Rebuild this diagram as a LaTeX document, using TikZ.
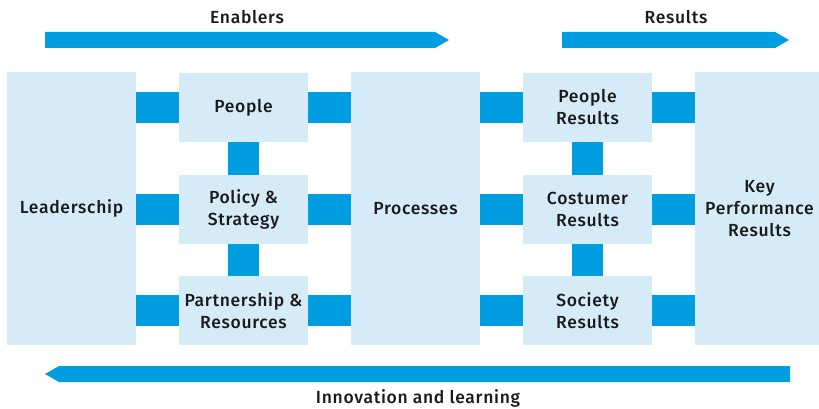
\documentclass[tikz,border=0pt]{standalone}
\usepackage{fontspec}
\setmainfont{Fira Sans}[UprightFont=* Medium, LetterSpace=4]
\definecolor{efqmblue}{RGB}{0,158,224}
\definecolor{efqmlight}{RGB}{213,235,248}
\definecolor{efqmtext}{RGB}{26,26,26}
\tikzset{
  box/.style={fill=efqmlight, minimum width=129pt, minimum height=69pt,
    inner sep=0pt, align=center, text=efqmtext},
  bigbox/.style={box, minimum height=273pt},
  link/.style={draw=efqmblue, line width=31pt},
  caption/.style={text=efqmtext}
}
\begin{document}
\begin{tikzpicture}[x=1pt,y=-1pt,font=\fontsize{17.5}{22}\selectfont]
	\useasboundingbox (0,0) rectangle (819,409);
	\clip (0,0) rectangle (819,409);
	% flow arrows
	\fill[efqmblue] (45,32)--(435,32)--(449,40)--(435,48)--(45,48)--cycle;
	\fill[efqmblue] (562,32)--(775,32)--(789,40)--(775,48)--(562,48)--cycle;
	\fill[efqmblue] (790,366)--(59,366)--(45,374)--(59,382)--(790,382)--cycle;
	\node[caption] (enablers) at (247,17) {Enablers};
	\node[caption] (results) at (676,17) {Results};
	\node[caption] (innovation) at (418,398) {Innovation and learning};
	% boxes
	\node[bigbox] (lead) at (71.5,208.5) {Leaderschip};
	\node[box] (people) at (243.5,107.5) {People};
	\node[box] (policy) at (243.5,209.5) {Policy \&\\Strategy};
	\node[box] (partner) at (243.5,310.5) {Partnership \&\\Resources};
	\node[bigbox] (proc) at (415.5,208.5) {Processes};
	\node[box] (peopleres) at (587.5,107.5) {People\\Results};
	\node[box] (custres) at (587.5,209.5) {Costumer\\Results};
	\node[box] (socres) at (587.5,310.5) {Society\\Results};
	\node[bigbox] (key) at (759.5,208.5) {Key\\Performance\\Results};
	% connectors
	\foreach \l/\r in {people/peopleres, policy/custres, partner/socres}{
		\draw[link] (lead.east |- \l) -- (\l.west);
		\draw[link] (\l.east) -- (proc.west |- \l);
		\draw[link] (proc.east |- \r) -- (\r.west);
		\draw[link] (\r.east) -- (key.west |- \r);
	}
	\draw[link] (people.south) -- (policy.north);
	\draw[link] (policy.south) -- (partner.north);
	\draw[link] (peopleres.south) -- (custres.north);
	\draw[link] (custres.south) -- (socres.north);
\end{tikzpicture}
\end{document}
